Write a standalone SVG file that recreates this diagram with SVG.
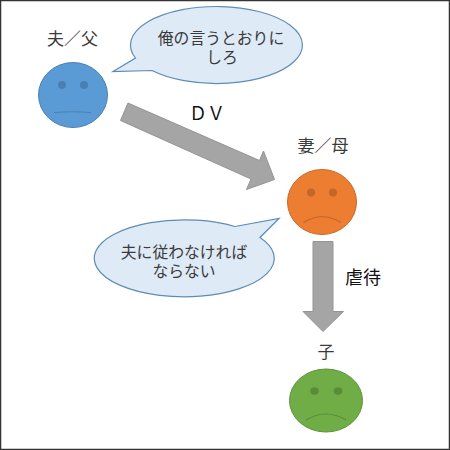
<svg xmlns="http://www.w3.org/2000/svg" width="450" height="450" viewBox="0 0 450 450">
<style>
text{font-family:"Liberation Sans","Noto Sans CJK JP",sans-serif;fill:#3a3a3a;text-anchor:middle}
.lbl{font-size:17px}
.blk{font-size:18px;fill:#111}
.call{font-size:15.800px}
.bubble{fill:#deeaf6;stroke:#5f8cb5;stroke-width:1.2}
.arr{fill:#a5a5a5;stroke:#949494;stroke-width:1}
.mouth{fill:none;stroke-width:1.2}
</style>
<rect x="0" y="0" width="450" height="450" fill="#fff"/>
<rect x="0.5" y="0.5" width="449" height="449" fill="none" stroke="#333" stroke-width="1.5"/>
<g id="connectors">
<path class="arr" d="M128 103L259.500 160.500L263.500 151L274.500 179.500L246.500 189.500L251 179L120.500 120.500Z"/>
<path class="arr" d="M313 241.500H333V311.500H343.500L323 331.500L303 311.500H313Z"/>
</g>
<g id="father">
<text class="lbl" x="72.500" y="45">夫／父</text>
<ellipse cx="73" cy="95" rx="34.500" ry="32.500" fill="#5b9bd5" stroke="#4a80b0"/>
<circle cx="62" cy="85" r="4" fill="#4a7fb0"/><circle cx="84" cy="85" r="4" fill="#4a7fb0"/>
<path class="mouth" stroke="#4a80b0" d="M54 112.500Q73 111 91 112.500"/>
</g>
<g id="mother">
<text class="lbl" x="323" y="152">妻／母</text>
<ellipse cx="322" cy="202" rx="34.500" ry="32.500" fill="#ed7d31" stroke="#c76a2a"/>
<circle cx="311" cy="192.500" r="4" fill="#c0672a"/><circle cx="333" cy="192.500" r="4" fill="#c0672a"/>
<path class="mouth" stroke="#c0672a" d="M303.500 222.500Q322 211 341 222.500"/>
</g>
<g id="child">
<text class="lbl" x="326" y="358">子</text>
<ellipse cx="326" cy="400.500" rx="36.500" ry="31.500" fill="#70ad47" stroke="#5d9039"/>
<ellipse cx="314.500" cy="391" rx="4.300" ry="3.700" fill="#598c38"/><ellipse cx="338" cy="391" rx="4.300" ry="3.700" fill="#598c38"/>
<path class="mouth" stroke="#598c38" d="M306 420Q326 408 346 420"/>
</g>
<g id="bubble-father">
<path class="bubble" d="M113 71.500L135.500 58A86 38.500 0 1 1 152 70.500Z"/>
<text class="call"><tspan x="221" y="44">俺の言うとおりに</tspan><tspan x="222" y="63">しろ</tspan></text>
</g>
<g id="bubble-mother">
<path class="bubble" d="M279 218.500L260 237.500A90 38.500 0 1 1 235 226.500Z"/>
<text class="call"><tspan x="184" y="258">夫に従わなければ</tspan><tspan x="184" y="277">ならない</tspan></text>
</g>
<g id="labels">
<text class="blk" x="207" y="120">ＤＶ</text>
<text class="blk" x="363" y="284">虐待</text>
</g>
</svg>
